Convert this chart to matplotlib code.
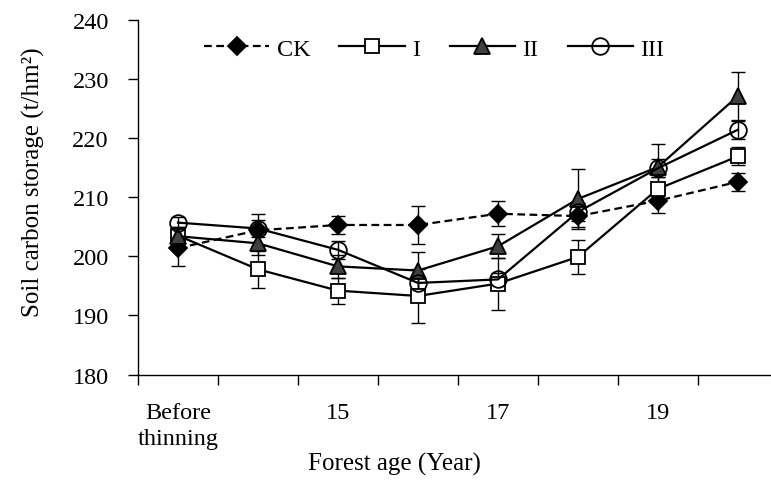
import numpy as np
import matplotlib
matplotlib.use("Agg")
import matplotlib.pyplot as plt

plt.rcParams['font.family'] = ['Liberation Serif', 'DejaVu Serif']

# categories (forest age)
categorias = ["Before\nthinning", "14", "15", "16", "17", "18", "19", "20"]
etiquetas = ["Before\nthinning", "", "15", "", "17", "", "19", ""]

# soil carbon storage (t/hm2)
ck = [201.4, 204.4, 205.3, 205.3, 207.2, 206.8, 209.4, 212.6]
t1 = [203.5, 197.8, 194.2, 193.3, 195.4, 199.9, 211.4, 216.9]
t2 = [203.4, 202.2, 198.3, 197.6, 201.7, 209.7, 215.1, 227.1]
t3 = [205.7, 204.7, 201.1, 195.5, 196.1, 207.5, 214.9, 221.4]

# standard deviations (error bars)
ck_sd = [3.0, 2.7, 1.6, 3.2, 2.1, 1.8, 2.1, 1.5]
t1_sd = [1.5, 3.1, 2.2, 4.6, 4.4, 2.9, 2.0, 1.5]
t2_sd = [1.5, 2.0, 2.0, 3.1, 2.0, 5.1, 3.9, 4.0]
t3_sd = [1.0, 1.5, 1.5, 1.0, 1.0, 1.5, 1.5, 1.5]

x = np.arange(len(categorias))
fs = 17.5

fig = plt.figure(figsize=(7.71, 4.81), dpi=100)
ax = fig.add_axes([0.179, 0.219, 0.830, 0.738])

series = [
  (ck, ck_sd, "CK", dict(marker="D", ms=9, mfc="black", mec="black", ls=(0, (3.5, 2))) ),
  (t1, t1_sd, "I", dict(marker="s", ms=9.5, mfc="white", mec="black", ls="-")),
  (t2, t2_sd, "II", dict(marker="^", ms=12, mfc="#404040", mec="black", ls="-")),
  (t3, t3_sd, "III", dict(marker="o", ms=12, mfc="none", mec="black", ls="-")),
]

for k, (y, sd, nombre, estilo) in enumerate(series):
  ax.errorbar(x, y, yerr=sd, fmt="none", ecolor="black", elinewidth=1, capsize=5, capthick=1, zorder=2)
for k, (y, sd, nombre, estilo) in enumerate(series):
  ax.plot(x, y, color="black", lw=1.6, mew=1.3, label=nombre, zorder=3 + k, **estilo)

ax.set_ylim(180, 240)
ax.set_yticks(np.arange(180, 241, 10))
ax.set_xlim(-0.5, 7.5)

# ticks between categories, labels on categories
ax.set_xticks(np.arange(-0.5, 7.6, 1))
ax.set_xticklabels([])
ax.set_xticks(x, minor=True)
ax.set_xticklabels(etiquetas, minor=True, fontsize=fs, linespacing=1.3)
ax.tick_params(axis="x", which="major", direction="out", length=7, width=1)
ax.tick_params(axis="x", which="minor", length=0, pad=20)
ax.tick_params(axis="y", direction="out", length=7, width=1, labelsize=fs, pad=14)

for s in ["top", "right"]:
  ax.spines[s].set_visible(False)
ax.spines["left"].set_linewidth(1)
ax.spines["bottom"].set_linewidth(1)

ax.set_ylabel("Soil carbon storage (t/hm²)", fontsize=fs + 0.5, va="center")
ax.yaxis.set_label_coords(-0.164, 0.546)
ax.set_xlabel("Forest age (Year)", fontsize=fs + 0.5, va="center")
ax.xaxis.set_label_coords(0.40, -0.25)

ax.legend(loc="upper left", bbox_to_anchor=(0.08, 0.99), ncol=4, frameon=False, fontsize=fs,
          handlelength=2.7, columnspacing=1.2, handletextpad=0.3, borderaxespad=0.2)

plt.savefig("out.png", dpi=100)
